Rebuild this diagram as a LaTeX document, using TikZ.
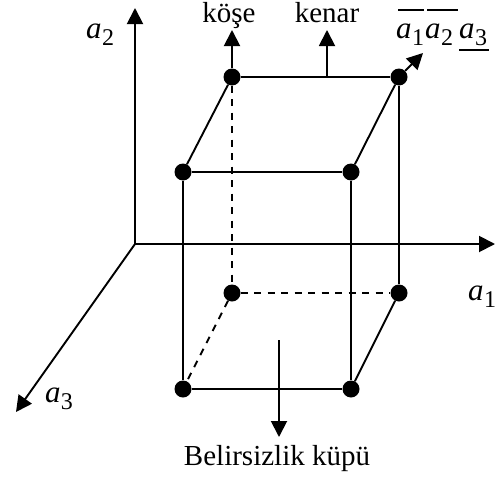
\documentclass[tikz,border=0pt]{standalone}
\usepackage{fontspec}
\setmainfont{Liberation Serif}
\usetikzlibrary{arrows.meta}
\newcommand{\asub}[1]{{\fontsize{31}{31}\selectfont\textit{a}}\kern0.5pt\raisebox{-7pt}{\fontsize{24}{24}\selectfont #1}}
\tikzset{
  x=1pt,y=-1pt,
  dot/.style={circle,fill=black,draw=none,minimum size=17pt,inner sep=0pt},
  edge/.style={line width=1.9pt,draw=black},
  hid/.style={edge,dash pattern=on 7pt off 6.5pt},
  arr/.style={edge,-{Triangle[length=16pt,width=16pt]}},
  lab/.style={inner sep=0pt,font=\fontsize{29}{29}\selectfont,anchor=base},
  bar/.style={line width=1.2pt,draw=black}
}
\begin{document}
\begin{tikzpicture}
\useasboundingbox (0,0) rectangle (495,479);
\coordinate (O) at (135,244);
\coordinate (A1) at (495,244);
\coordinate (A2) at (135,8);
\coordinate (A3) at (16,412);
\coordinate (Up1) at (232,30);
\coordinate (K0) at (327,77);
\coordinate (K1) at (327,30);
\coordinate (D1) at (423,53);
\coordinate (C0) at (279,340);
\coordinate (C1) at (279,437);
\node[dot] (btl) at (232,77) {};
\node[dot] (btr) at (399,77) {};
\node[dot] (ftl) at (183,172) {};
\node[dot] (ftr) at (351,172) {};
\node[dot] (bbl) at (232,293) {};
\node[dot] (bbr) at (399,293) {};
\node[dot] (fbl) at (183,389) {};
\node[dot] (fbr) at (351,389) {};
\draw[arr] (O) -- (A1);
\draw[arr] (O) -- (A2);
\draw[arr] (O) -- (A3);
\draw[edge] (btl) -- (btr);
\draw[edge] (ftl) -- (ftr);
\draw[edge] (fbl) -- (fbr);
\draw[edge] (btl) -- (ftl);
\draw[edge] (btr) -- (ftr);
\draw[edge] (bbr) -- (fbr);
\draw[edge] (ftl) -- (fbl);
\draw[edge] (ftr) -- (fbr);
\draw[edge] (btr) -- (bbr);
\draw[hid] (btl) -- (bbl);
\draw[hid] (bbl) -- (bbr);
\draw[hid] (bbl) -- (fbl);
\draw[arr] (btl) -- (Up1);
\draw[arr] (K0) -- (K1);
\draw[arr] (btr) -- (D1);
\draw[arr] (C0) -- (C1);
\node[lab] (lkose) at (229,23) {köşe};
\node[lab] (lkenar) at (327,23) {kenar};
\node[lab] (lb) at (277,465) {Belirsizlik küpü};
\node[lab] (l2) at (100,38) {\asub{2}};
\node[lab] (l1) at (482,300) {\asub{1}};
\node[lab] (l3) at (59,402) {\asub{3}};
\node[lab] (la1) at (410,38) {\asub{1}};
\node[lab] (la2) at (439,38) {\asub{2}};
\node[lab] (la3) at (473,38) {\asub{3}};
\coordinate (b1a) at (398,10); \coordinate (b1b) at (424,10);
\coordinate (b2a) at (427,10); \coordinate (b2b) at (458,10);
\coordinate (b3a) at (459,50); \coordinate (b3b) at (489,50);
\draw[bar] (b1a) -- (b1b);
\draw[bar] (b2a) -- (b2b);
\draw[bar] (b3a) -- (b3b);
\end{tikzpicture}
\end{document}
